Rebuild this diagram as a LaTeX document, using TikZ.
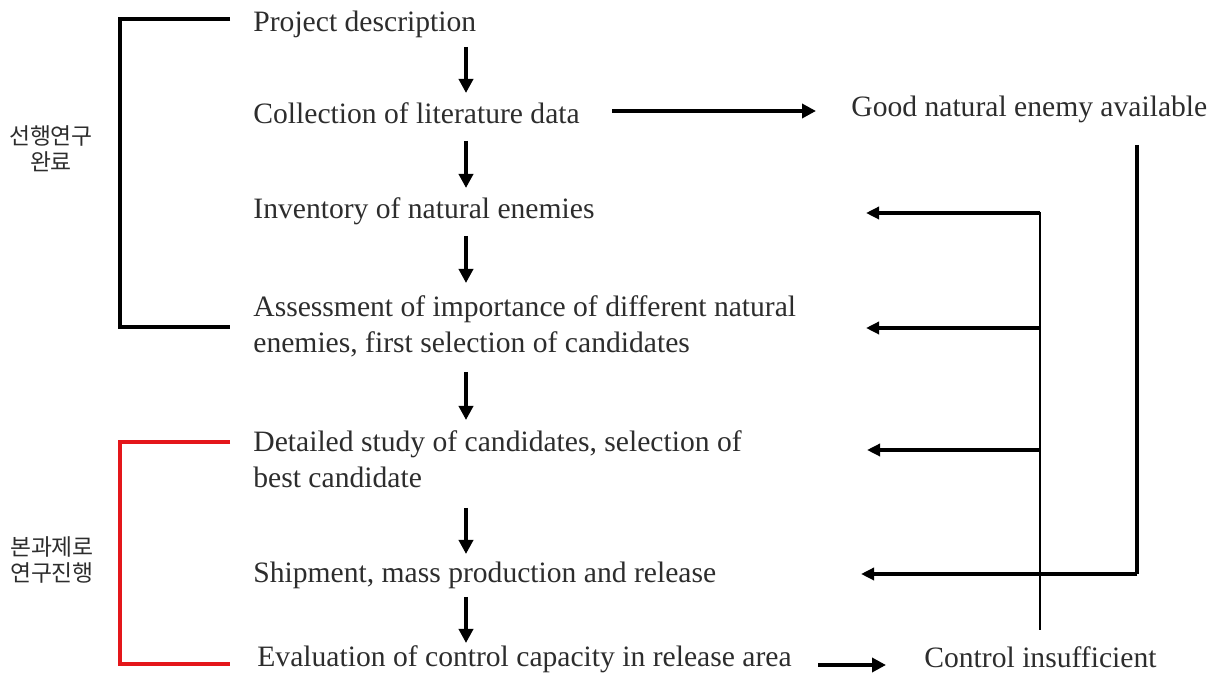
\documentclass[tikz,border=0pt]{standalone}
\usepackage{fontspec}
\setmainfont{Liberation Serif}
\newfontfamily\krfont{Noto Sans CJK KR}
\usetikzlibrary{arrows.meta}
\definecolor{bracketred}{RGB}{228,22,26}
\definecolor{labelgrey}{RGB}{45,45,45}
\newcommand{\twoline}[2]{\begin{tabular}[t]{@{}l@{}}#1\\#2\end{tabular}}
\begin{document}
\begin{tikzpicture}[x=0.5pt,y=-0.5pt,
  stepbox/.style={anchor=base west, inner sep=0pt, text=labelgrey,
    font=\fontsize{14.8}{17.6}\selectfont},
  phase/.style={align=center, inner sep=0pt, text=labelgrey,
    font=\krfont\fontsize{11.4}{12.8}\selectfont},
  flow/.style={line width=2pt, -{Triangle[length=7pt,width=7pt]}},
  back/.style={line width=2pt, -{Triangle[length=6.5pt,width=6pt]}},
  bracket/.style={line width=2.3pt},
]
\useasboundingbox (0,0) rectangle (1217,678);

% main sequence of steps
\node[stepbox] (proj) at (253,32) {Project description};
\node[stepbox] (coll) at (253,124) {Collection of literature data};
\node[stepbox] (inv)  at (253,219) {Inventory of natural enemies};
\node[stepbox] (ass)  at (253,317) {\twoline{Assessment of importance of different natural}{enemies, first selection of candidates}};
\node[stepbox] (det)  at (253,452) {\twoline{Detailed study of candidates, selection of}{best candidate}};
\node[stepbox] (ship) at (253,583) {Shipment, mass production and release};
\node[stepbox] (eval) at (257,667) {Evaluation of control capacity in release area};

% outcomes on the right
\node[stepbox] (good) at (851,117) {Good natural enemy available};
\node[stepbox] (ctrl) at (924,668) {Control insufficient};

% phase labels
\node[phase] (done) at (51,149) {선행연구\\완료};
\node[phase] (cur)  at (52,560) {본과제로\\연구진행};

% phase brackets
\coordinate (b1a) at (230,19);
\coordinate (b1b) at (230,327);
\draw[bracket] (b1a) -- (120,19) -- (120,327) -- (b1b);
\coordinate (b2a) at (230,442);
\coordinate (b2b) at (230,664);
\draw[bracket, bracketred] (b2a) -- (120,442) -- (120,664) -- (b2b);

% downward flow
\coordinate (d1a) at (466,47);  \coordinate (d1b) at (466,93);
\coordinate (d2a) at (466,141); \coordinate (d2b) at (466,188);
\coordinate (d3a) at (466,236); \coordinate (d3b) at (466,283);
\coordinate (d4a) at (466,372); \coordinate (d4b) at (466,420);
\coordinate (d5a) at (466,508); \coordinate (d5b) at (466,554);
\coordinate (d6a) at (466,597); \coordinate (d6b) at (466,643);
\foreach \i in {1,...,6} \draw[flow] (d\i a) -- (d\i b);

% sideways results
\coordinate (r1a) at (612,111); \coordinate (r1b) at (816,111);
\draw[flow] (r1a) -- (r1b);
\coordinate (r2a) at (818,665); \coordinate (r2b) at (886,665);
\draw[flow] (r2a) -- (r2b);

% feedback loop from insufficient control
\coordinate (fbtop) at (1040,212);
\coordinate (fbbot) at (1040,630);
\draw[line width=0.8pt] (fbtop) -- (fbbot);
\coordinate (f1) at (1040,213); \coordinate (t1) at (866,213);
\coordinate (f2) at (1040,328); \coordinate (t2) at (866,328);
\coordinate (f3) at (1040,450); \coordinate (t3) at (867,450);
\foreach \i in {1,2,3} \draw[back] (f\i) -- (t\i);

% direct route when a good natural enemy is available
\coordinate (gtop) at (1137,145);
\coordinate (gbot) at (1137,574);
\coordinate (gtip) at (861,574);
\draw[line width=1.6pt] (gtop) -- (gbot);
\draw[back] (gbot) -- (gtip);
\end{tikzpicture}
\end{document}
